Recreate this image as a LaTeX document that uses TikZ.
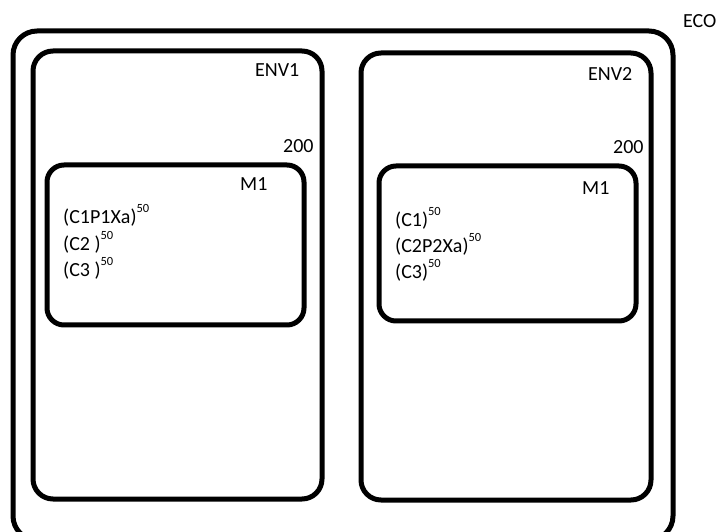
\documentclass[tikz,border=0pt]{standalone}
\usepackage{fontspec}
\setmainfont{Carlito}
\begin{document}
\begin{tikzpicture}[x=1pt,y=-1pt,
  frame/.style={draw=black,line width=5pt,rounded corners=20pt},
  lbl/.style={anchor=base west,inner sep=0pt,font=\fontsize{20}{22}\selectfont},
]
\newcommand{\supf}[1]{\raisebox{11pt}{\fontsize{12.5}{13}\selectfont #1}}
\useasboundingbox (0,0) rectangle (716,532);
% ECO
\draw[frame,rounded corners=24pt] (13,31) rectangle (673,540);
% ENV1 / ENV2
\draw[frame] (33,51) rectangle (322,499);
\draw[frame] (361,53) rectangle (651,500);
% M1 boxes
\draw[frame,rounded corners=17pt] (47,165) rectangle (304,325);
\draw[frame,rounded corners=17pt] (379,166) rectangle (636,321);
% labels
\node[lbl] (eco) at (683,28) {ECO};
\node[lbl] (env1) at (255,77) {ENV1};
\node[lbl] (env2) at (588,81) {ENV2};
\node[lbl] (n200a) at (283,153) {200};
\node[lbl] (n200b) at (613,154) {200};
\node[lbl] (m1a) at (240,191) {M1};
\node[lbl] (m1b) at (582,195) {M1};
% left contents
\node[lbl] (l1) at (63,224) {(C1P1Xa)\supf{50}};
\node[lbl] (l2) at (63,251) {(C2 )\supf{50}};
\node[lbl] (l3) at (63,277) {(C3 )\supf{50}};
% right contents
\node[lbl] (r1) at (395,227) {(C1)\supf{50}};
\node[lbl] (r2) at (395,253) {(C2P2Xa)\supf{50}};
\node[lbl] (r3) at (395,279) {(C3)\supf{50}};
\end{tikzpicture}
\end{document}
